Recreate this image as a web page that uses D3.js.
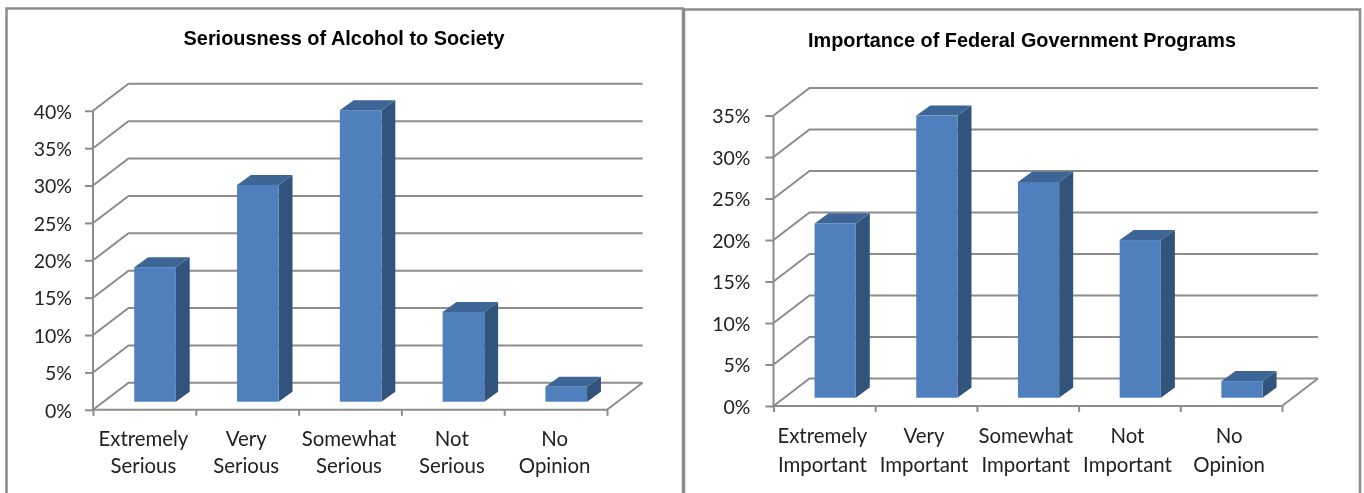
<!DOCTYPE html>
<html>
<head>
<meta charset="utf-8">
<script src="https://cdnjs.cloudflare.com/ajax/libs/d3/7.8.5/d3.min.js"></script>
<style>
html, body { margin: 0; padding: 0; background: #fff; overflow: hidden; }
svg { display: block; filter: blur(0.45px); }
.title { font-family: "Liberation Sans", Arial, sans-serif; font-weight: bold; fill: #000; }
.lab { font-family: Lato, "Open Sans", sans-serif; font-size: 19.5px; fill: #222; }
.cat { font-size: 20.4px; }
</style>
</head>
<body>
<div id="chart"></div>
<script>
var leftTitle = "Seriousness of Alcohol to Society";
var leftCats = [["Extremely", "Serious"], ["Very", "Serious"], ["Somewhat", "Serious"], ["Not", "Serious"], ["No", "Opinion"]];
var leftVals = [18, 29, 39, 12, 2];
var leftTicks = [0, 5, 10, 15, 20, 25, 30, 35, 40];

var rightTitle = "Importance of Federal Government Programs";
var rightCats = [["Extremely", "Important"], ["Very", "Important"], ["Somewhat", "Important"], ["Not", "Important"], ["No", "Opinion"]];
var rightVals = [21, 34, 26, 19, 2];
var rightTicks = [0, 5, 10, 15, 20, 25, 30, 35];

var grid_c = "#8c8c8c",
	face_c = "#4f7fbd",
	side_c = "#32537c",
	top_c = "#3d6696";

var svg = d3.select("#chart").append("svg")
	.attr("width", 1364)
	.attr("height", 493);

// panel frames, open at the bottom
function frame(x0, x1, y0) {
	svg.append("path")
		.attr("d", "M" + x0 + ",500V" + y0 + "H" + x1 + "V500")
		.attr("fill", "none")
		.attr("stroke", grid_c)
		.attr("stroke-width", 2.5);
}

function drawChart(o) {
	var g = svg.append("g");

	var x = d3.scaleBand().domain(d3.range(o.cats.length)).range([o.x0, o.x1]);
	var y = d3.scaleLinear().domain([0, d3.max(o.ticks)]).range([o.y0, o.y1]);

	g.append("text")
		.attr("class", "title")
		.attr("x", o.titleX)
		.attr("y", o.titleY)
		.attr("text-anchor", "middle")
		.attr("font-size", o.titleSize)
		.text(o.title);

	// back wall lines and the slanted side wall lines
	g.selectAll(".back").data(o.ticks).enter().append("path")
		.attr("class", "back")
		.attr("fill", "none")
		.attr("stroke", grid_c)
		.attr("stroke-width", 2)
		.attr("d", function(d) {
			return "M" + o.x0 + "," + y(d) + "l" + o.dx + "," + (-o.dy) + "H" + (o.x1 + o.dx);
		});

	// floor right edge
	g.append("path")
		.attr("fill", "none")
		.attr("stroke", grid_c)
		.attr("stroke-width", 2)
		.attr("d", "M" + o.x1 + "," + y(0) + "l" + o.dx + "," + (-o.dy));

	// y axis
	var yAxis = d3.axisLeft(y)
		.tickValues(o.ticks)
		.tickSize(8)
		.tickPadding(o.pad)
		.tickFormat(function(d) { return d + "%"; });
	var ya = g.append("g").attr("transform", "translate(" + o.x0 + ",0)").call(yAxis);
	ya.selectAll("path, line").attr("stroke", grid_c).attr("stroke-width", 2);
	ya.select(".domain").attr("d", "M0," + y(0) + "V" + y(d3.max(o.ticks)));
	ya.selectAll("text")
		.attr("class", "lab")
		.attr("dy", "0.37em");

	// x axis, ticks sit on the band edges
	var xEdge = d3.scaleLinear().domain([0, o.cats.length]).range([o.x0, o.x1]);
	var xAxis = d3.axisBottom(xEdge)
		.tickValues(d3.range(o.cats.length + 1))
		.tickSize(6)
		.tickFormat("");
	var xa = g.append("g").attr("transform", "translate(0," + y(0) + ")").call(xAxis);
	xa.selectAll("path, line").attr("stroke", grid_c).attr("stroke-width", 2);
	xa.select(".domain").attr("d", "M" + o.x0 + ",0H" + o.x1);

	// bars
	var bw = x.bandwidth() * 0.405,
		bx = o.dx * o.front,
		by = o.dy * o.front,
		sx = o.dx * 0.39,
		sy = o.dy * 0.37;

	function left(i) { return x(i) + (x.bandwidth() - bw) / 2 + bx; }
	function top(d) { return y(d) - by; }

	var bars = g.selectAll(".bar").data(o.vals).enter().append("g").attr("class", "bar");

	bars.append("path")
		.attr("fill", side_c)
		.attr("d", function(d, i) {
			var r = left(i) + bw;
			return "M" + r + "," + top(d) + "l" + sx + "," + (-sy) + "V" + (y(0) - by - sy) + "l" + (-sx) + "," + sy + "Z";
		});
	bars.append("path")
		.attr("fill", top_c)
		.attr("d", function(d, i) {
			return "M" + left(i) + "," + top(d) + "l" + sx + "," + (-sy) + "h" + bw + "l" + (-sx) + "," + sy + "Z";
		});
	bars.append("rect")
		.attr("fill", face_c)
		.attr("x", function(d, i) { return left(i); })
		.attr("y", function(d) { return top(d); })
		.attr("width", bw)
		.attr("height", function(d) { return y(0) - y(d); });

	// category labels, two lines each
	var labels = g.selectAll(".cat").data(o.cats).enter().append("text")
		.attr("class", "lab cat")
		.attr("text-anchor", "middle");
	labels.append("tspan")
		.attr("x", function(d, i) { return x(i) + x.bandwidth() / 2 - o.labShift; })
		.attr("y", o.line1)
		.text(function(d) { return d[0]; });
	labels.append("tspan")
		.attr("x", function(d, i) { return x(i) + x.bandwidth() / 2 - o.labShift; })
		.attr("y", o.line2)
		.text(function(d) { return d[1]; });
}

frame(6.5, 683, 8.5);
frame(684, 1360, 9.5);

drawChart({
	title: leftTitle, cats: leftCats, vals: leftVals, ticks: leftTicks,
	x0: 93, x1: 607, y0: 409.8, y1: 110.8, dx: 35.5, dy: 27, front: 0.3, pad: 13, labShift: 1,
	titleX: 344, titleY: 45, titleSize: 19.9, line1: 446, line2: 473
});

drawChart({
	title: rightTitle, cats: rightCats, vals: rightVals, ticks: rightTicks,
	x0: 773.5, x1: 1282, y0: 406, y1: 115.5, dx: 36, dy: 27.5, front: 0.3, pad: 15, labShift: 2,
	titleX: 1022, titleY: 47, titleSize: 19.85, line1: 443, line2: 472
});
</script>
</body>
</html>
